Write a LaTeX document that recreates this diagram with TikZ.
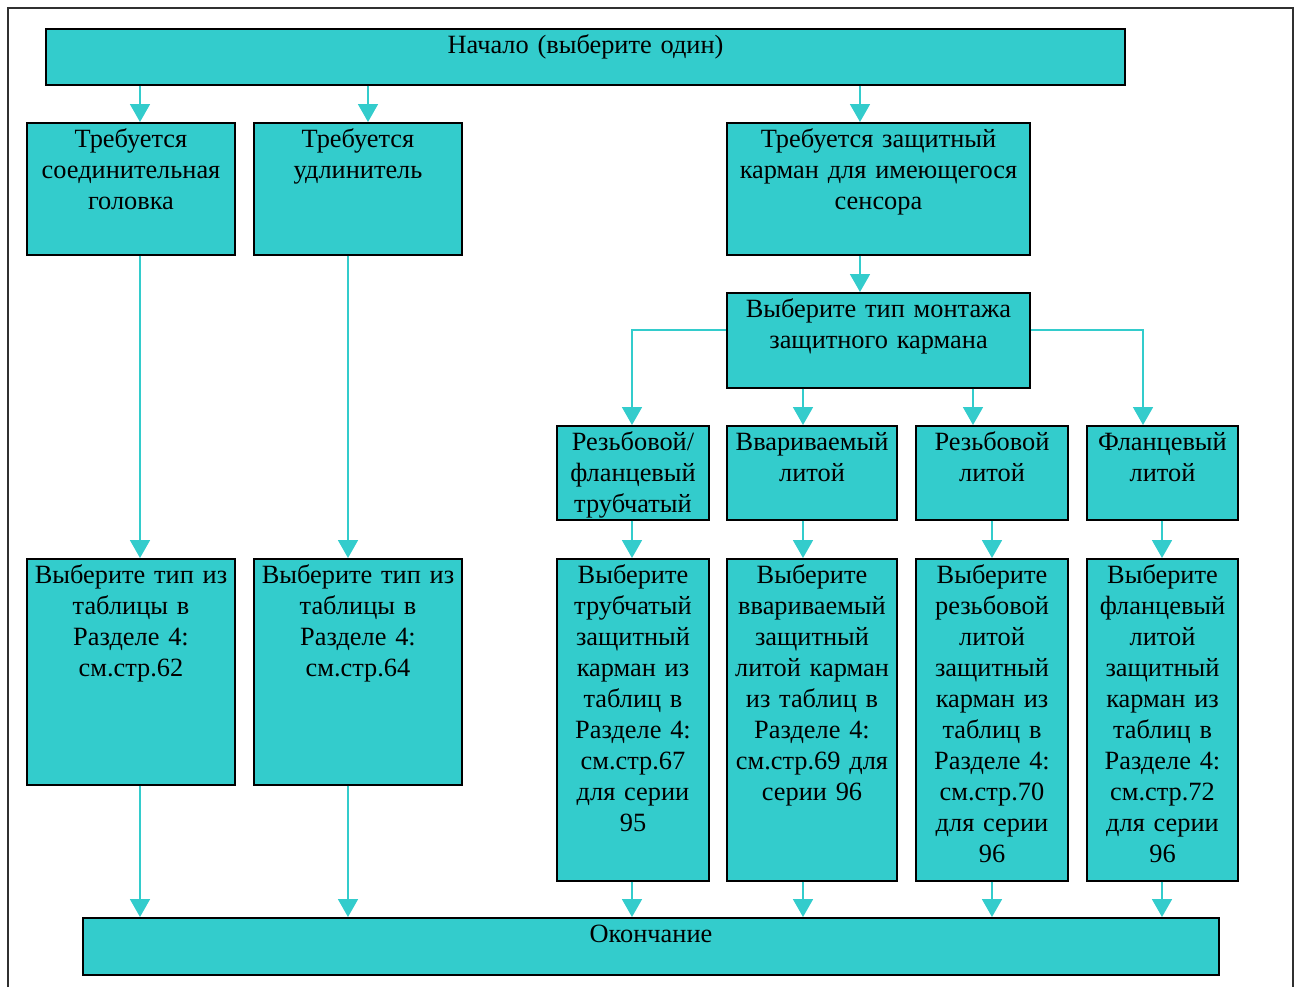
\documentclass[tikz,border=0pt]{standalone}
\usepackage{fontspec}
\setmainfont{Liberation Serif}
\usepackage{tikz}
\usetikzlibrary{arrows.meta}
\definecolor{tealfill}{HTML}{33CCCC}
\definecolor{tealline}{HTML}{33CCCC}
\definecolor{ink}{HTML}{000000}
\definecolor{framegray}{HTML}{303030}
\newcommand{\boxfont}{\fontsize{15pt}{17.6pt}\selectfont}
\tikzset{
  tealbox/.style={draw=ink,fill=tealfill,line width=0.9pt,anchor=north,
                  align=center,inner xsep=2pt,inner ysep=0.1cm,
                  text height=0.4cm,font=\boxfont},
  tealarr/.style={-{Triangle[length=3.6mm,width=4mm]},line width=1pt,
                  draw=tealline},
  outerframe/.style={draw=framegray,line width=1pt}
}
\begin{document}
\begin{tikzpicture}[x=1cm,y=1cm]
    \path[use as bounding box] (0,0) rectangle (25.90,-19.74);
    \draw[outerframe] (0.16,-19.74) -- (0.16,-0.16) -- (25.86,-0.16) -- (25.86,-19.74);

    % columns of the connectors
    \coordinate (xa) at (2.80,0);
    \coordinate (xb) at (6.96,0);
    \coordinate (xbtop) at (7.36,0);
    \coordinate (xc) at (17.20,0);
    \coordinate (xe1) at (12.64,0);
    \coordinate (xe2) at (16.06,0);
    \coordinate (xe3) at (19.46,0);
    \coordinate (xe4) at (22.86,0);
    \coordinate (xg3) at (19.84,0);
    \coordinate (xg4) at (23.24,0);
    \coordinate (ymount) at (0,-6.60);

    \node[tealbox,text width=21.44cm,minimum width=21.58cm,
          text depth=0.52cm,minimum height=1.12cm] (start) at (11.71,-0.56)
      {Начало (выберите один)};

    \node[tealbox,text width=4.02cm,minimum width=4.16cm,
          text depth=2.04cm,minimum height=2.64cm] (joint) at (2.62,-2.44)
      {Требуется\\соединительная\\головка};
    \node[tealbox,text width=4.02cm,minimum width=4.16cm,
          text depth=2.04cm,minimum height=2.64cm] (ext) at (7.16,-2.44)
      {Требуется\\удлинитель};
    \node[tealbox,text width=5.92cm,minimum width=6.06cm,
          text depth=2.04cm,minimum height=2.64cm] (well) at (17.57,-2.44)
      {Требуется защитный\\карман для имеющегося\\сенсора};
    \node[tealbox,text width=5.92cm,minimum width=6.06cm,
          text depth=1.30cm,minimum height=1.90cm] (mount) at (17.57,-5.84)
      {Выберите тип монтажа\\защитного кармана};

    \node[tealbox,text width=2.90cm,minimum width=3.04cm,
          text depth=1.28cm,minimum height=1.88cm] (tube) at (12.66,-8.50)
      {Резьбовой/\\фланцевый\\трубчатый};
    \node[tealbox,text width=3.26cm,minimum width=3.40cm,
          text depth=1.28cm,minimum height=1.88cm] (weld) at (16.24,-8.50)
      {Ввариваемый\\литой};
    \node[tealbox,text width=2.90cm,minimum width=3.04cm,
          text depth=1.28cm,minimum height=1.88cm] (thread) at (19.84,-8.50)
      {Резьбовой\\литой};
    \node[tealbox,text width=2.88cm,minimum width=3.02cm,
          text depth=1.28cm,minimum height=1.88cm] (flange) at (23.25,-8.50)
      {Фланцевый\\литой};

    \node[tealbox,text width=4.02cm,minimum width=4.16cm,
          text depth=3.92cm,minimum height=4.52cm] (jointsel) at (2.62,-11.16)
      {Выберите тип из\\таблицы в\\Разделе 4:\\см.стр.62};
    \node[tealbox,text width=4.02cm,minimum width=4.16cm,
          text depth=3.92cm,minimum height=4.52cm] (extsel) at (7.16,-11.16)
      {Выберите тип из\\таблицы в\\Разделе 4:\\см.стр.64};
    \node[tealbox,text width=2.90cm,minimum width=3.04cm,
          text depth=5.84cm,minimum height=6.44cm] (tubesel) at (12.66,-11.16)
      {Выберите\\трубчатый\\защитный\\карман из\\таблиц в\\Разделе 4:\\см.стр.67\\для серии\\95};
    \node[tealbox,text width=3.26cm,minimum width=3.40cm,
          text depth=5.84cm,minimum height=6.44cm] (weldsel) at (16.24,-11.16)
      {Выберите\\ввариваемый\\защитный\\литой карман\\из таблиц в\\Разделе 4:\\см.стр.69 для\\серии 96};
    \node[tealbox,text width=2.90cm,minimum width=3.04cm,
          text depth=5.84cm,minimum height=6.44cm] (threadsel) at (19.84,-11.16)
      {Выберите\\резьбовой\\литой\\защитный\\карман из\\таблиц в\\Разделе 4:\\см.стр.70\\для серии\\96};
    \node[tealbox,text width=2.88cm,minimum width=3.02cm,
          text depth=5.84cm,minimum height=6.44cm] (flangesel) at (23.25,-11.16)
      {Выберите\\фланцевый\\литой\\защитный\\карман из\\таблиц в\\Разделе 4:\\см.стр.72\\для серии\\96};

    \node[tealbox,text width=22.58cm,minimum width=22.72cm,
          text depth=0.54cm,minimum height=1.14cm] (finish) at (13.02,-18.34)
      {Окончание};

    \draw[tealarr] (start.south -| xa) -- (joint.north -| xa);
    \draw[tealarr] (start.south -| xbtop) -- (ext.north -| xbtop);
    \draw[tealarr] (start.south -| xc) -- (well.north -| xc);
    \draw[tealarr] (well.south -| xc) -- (mount.north -| xc);

    \draw[tealarr] (mount.west |- ymount) -| (tube.north -| xe1);
    \draw[tealarr] (mount.south -| xe2) -- (weld.north -| xe2);
    \draw[tealarr] (mount.south -| xe3) -- (thread.north -| xe3);
    \draw[tealarr] (mount.east |- ymount) -| (flange.north -| xe4);

    \draw[tealarr] (joint.south -| xa) -- (jointsel.north -| xa);
    \draw[tealarr] (ext.south -| xb) -- (extsel.north -| xb);
    \draw[tealarr] (tube.south -| xe1) -- (tubesel.north -| xe1);
    \draw[tealarr] (weld.south -| xe2) -- (weldsel.north -| xe2);
    \draw[tealarr] (thread.south -| xg3) -- (threadsel.north -| xg3);
    \draw[tealarr] (flange.south -| xg4) -- (flangesel.north -| xg4);

    \draw[tealarr] (jointsel.south -| xa) -- (finish.north -| xa);
    \draw[tealarr] (extsel.south -| xb) -- (finish.north -| xb);
    \draw[tealarr] (tubesel.south -| xe1) -- (finish.north -| xe1);
    \draw[tealarr] (weldsel.south -| xe2) -- (finish.north -| xe2);
    \draw[tealarr] (threadsel.south -| xg3) -- (finish.north -| xg3);
    \draw[tealarr] (flangesel.south -| xg4) -- (finish.north -| xg4);
  \end{tikzpicture}
\end{document}
